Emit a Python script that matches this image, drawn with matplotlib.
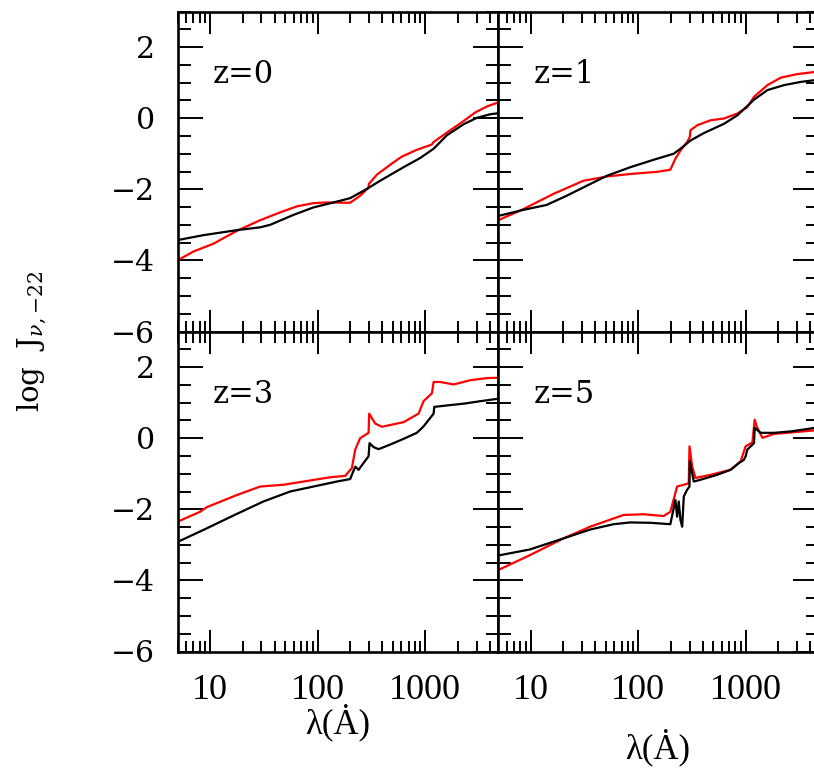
"""Mean intensity J_nu vs wavelength at z = 0, 1, 3, 5 (black vs red model)."""

from __future__ import annotations

import matplotlib

matplotlib.use("Agg")
import matplotlib.pyplot as plt
import numpy as np
from matplotlib.ticker import FixedLocator, LogLocator, NullFormatter, FixedFormatter

# values: log10(lambda / A), log J_nu,-22
Z0_BLACK_LOGLAM = [0.696, 0.938, 1.248, 1.465, 1.558, 1.775, 1.961, 2.147, 2.302, 2.457,
                   2.581, 2.798, 2.953, 3.078, 3.202, 3.357, 3.481, 3.605, 3.682]
Z0_BLACK_LOGJ = [-3.43, -3.29, -3.15, -3.07, -3.00, -2.72, -2.51, -2.37, -2.25, -1.99,
                 -1.76, -1.38, -1.12, -0.86, -0.48, -0.17, 0.01, 0.11, 0.14]
Z0_RED_LOGLAM = [0.696, 0.845, 1.031, 1.248, 1.465, 1.651, 1.806, 1.961, 2.085, 2.302,
                 2.395, 2.473, 2.476, 2.550, 2.674, 2.783, 2.922, 3.062, 3.078, 3.233,
                 3.357, 3.465, 3.574, 3.667]
Z0_RED_LOGJ = [-4.00, -3.75, -3.53, -3.17, -2.87, -2.65, -2.48, -2.39, -2.37, -2.38,
               -2.18, -1.95, -1.85, -1.59, -1.31, -1.08, -0.89, -0.74, -0.67, -0.34,
               -0.08, 0.16, 0.33, 0.43]

Z1_BLACK_LOGLAM = [0.698, 0.931, 1.149, 1.336, 1.522, 1.709, 1.926, 2.144, 2.330, 2.393,
                   2.486, 2.610, 2.797, 2.922, 3.077, 3.202, 3.357, 3.512, 3.643]
Z1_BLACK_LOGJ = [-2.75, -2.58, -2.44, -2.18, -1.90, -1.62, -1.38, -1.17, -1.00, -0.86,
                 -0.63, -0.42, -0.16, 0.08, 0.52, 0.79, 0.93, 1.02, 1.07]
Z1_RED_LOGLAM = [0.698, 0.931, 1.211, 1.491, 1.709, 1.926, 2.175, 2.299, 2.346, 2.393,
                 2.455, 2.480, 2.486, 2.549, 2.673, 2.797, 2.922, 3.015, 3.077, 3.202,
                 3.326, 3.481, 3.643]
Z1_RED_LOGJ = [-2.87, -2.56, -2.13, -1.76, -1.64, -1.57, -1.51, -1.45, -1.14, -0.91,
               -0.67, -0.53, -0.34, -0.20, -0.06, -0.01, 0.13, 0.31, 0.60, 0.93,
               1.14, 1.24, 1.30]

Z3_BLACK_LOGLAM = [0.696, 0.938, 1.248, 1.496, 1.744, 1.992, 2.178, 2.302, 2.349, 2.380,
                   2.426, 2.473, 2.482, 2.519, 2.566, 2.674, 2.798, 2.922, 2.984, 3.078,
                   3.084, 3.202, 3.357, 3.512, 3.682]
Z3_BLACK_LOGJ = [-2.92, -2.58, -2.13, -1.78, -1.50, -1.34, -1.22, -1.15, -0.80, -0.89,
                 -0.70, -0.51, -0.14, -0.25, -0.31, -0.18, -0.02, 0.15, 0.33, 0.69,
                 0.88, 0.92, 0.97, 1.04, 1.11]
Z3_RED_LOGLAM = [0.696, 0.907, 0.969, 1.248, 1.465, 1.682, 1.930, 2.116, 2.256, 2.318,
                 2.349, 2.395, 2.473, 2.479, 2.535, 2.597, 2.798, 2.938, 2.984, 3.062,
                 3.078, 3.140, 3.264, 3.419, 3.574, 3.682]
Z3_RED_LOGJ = [-2.35, -2.07, -1.94, -1.60, -1.36, -1.31, -1.19, -1.10, -1.06, -0.84,
               -0.32, 0.00, 0.15, 0.69, 0.41, 0.32, 0.45, 0.69, 1.04, 1.26,
               1.58, 1.58, 1.51, 1.63, 1.69, 1.70]

Z5_BLACK_LOGLAM = [0.698, 0.993, 1.304, 1.553, 1.771, 1.926, 2.113, 2.299, 2.346, 2.362,
                   2.377, 2.393, 2.409, 2.424, 2.455, 2.477, 2.480, 2.517, 2.579, 2.735,
                   2.859, 2.937, 2.983, 2.999, 3.015, 3.077, 3.083, 3.139, 3.263, 3.419,
                   3.643]
Z5_BLACK_LOGJ = [-3.30, -3.13, -2.82, -2.57, -2.42, -2.37, -2.38, -2.42, -1.74, -2.21,
                 -1.78, -2.30, -2.49, -1.64, -1.45, -1.36, -0.65, -1.22, -1.17, -1.03,
                 -0.89, -0.70, -0.61, -0.51, -0.32, -0.14, 0.29, 0.15, 0.15, 0.19,
                 0.29]
Z5_RED_LOGLAM = [0.698, 0.993, 1.304, 1.553, 1.864, 2.051, 2.237, 2.299, 2.362, 2.424,
                 2.470, 2.477, 2.502, 2.533, 2.673, 2.859, 2.953, 2.999, 3.062, 3.083,
                 3.102, 3.155, 3.263, 3.419, 3.643]
Z5_RED_LOGJ = [-3.71, -3.29, -2.82, -2.49, -2.16, -2.14, -2.19, -2.07, -1.36, -1.31,
               -1.27, -0.23, -0.80, -1.12, -1.03, -0.89, -0.65, -0.23, -0.12, 0.52,
               0.33, 0.01, 0.12, 0.16, 0.22]

PANEL_LABELS = ["z=0", "z=1", "z=3", "z=5"]
X_TICKS = [10, 100, 1000]
X_TICK_LABELS = ["10", "100", "1000"]
Y_TICKS = [2, 0, -2, -4, -6]
Y_TICK_LABELS = ["2", "0", "\u22122", "\u22124", "\u22126"]

XLIM = (4.97, 4750)
YLIM = (-6, 3)

SERIF = ["DejaVu Serif"]
XSERIF = ["Liberation Serif", "DejaVu Serif"]

W, H = 814, 771


def style_axes(ax, show_x: bool, show_y: bool) -> None:
    ax.set_xscale("log")
    ax.set_xlim(*XLIM)
    ax.set_ylim(*YLIM)
    for sp in ax.spines.values():
        sp.set_linewidth(1.9)

    ax.xaxis.set_major_locator(FixedLocator(X_TICKS))
    ax.xaxis.set_minor_locator(LogLocator(base=10, subs=np.arange(2, 10), numticks=20))
    ax.xaxis.set_minor_formatter(NullFormatter())
    ax.yaxis.set_major_locator(FixedLocator(Y_TICKS))
    ax.yaxis.set_minor_locator(FixedLocator(np.arange(-6, 3.01, 0.5)))

    ax.tick_params(axis="both", which="both", direction="in", top=True, right=True,
                   width=1.4)
    ax.tick_params(axis="x", which="major", length=16)
    ax.tick_params(axis="x", which="minor", length=8)
    ax.tick_params(axis="y", which="major", length=18)
    ax.tick_params(axis="y", which="minor", length=9)

    if show_x:
        ax.xaxis.set_major_formatter(FixedFormatter(X_TICK_LABELS))
        ax.tick_params(axis="x", which="major", pad=16)
        for t in ax.get_xticklabels():
            t.set_fontfamily(XSERIF)
            t.set_fontsize(26)
    else:
        ax.set_xticklabels([])
    if show_y:
        ax.yaxis.set_major_formatter(FixedFormatter(Y_TICK_LABELS))
        ax.tick_params(axis="y", which="major", pad=16)
        for t in ax.get_yticklabels():
            t.set_fontfamily(SERIF)
            t.set_fontsize(21.5)
    else:
        ax.set_yticklabels([])


def main() -> None:
    plt.rcParams["mathtext.fontset"] = "dejavuserif"
    fig = plt.figure(figsize=(W / 100, H / 100), dpi=100)
    fig.patch.set_facecolor("white")

    left0, left1 = 177.5 / W, 498 / W
    width = 320.5 / W
    bot_top, bot_bot = (H - 331.5) / H, (H - 651.5) / H
    height = 320 / H

    panels = [
        (left0, bot_top, Z0_BLACK_LOGLAM, Z0_BLACK_LOGJ, Z0_RED_LOGLAM, Z0_RED_LOGJ, False, True),
        (left1, bot_top, Z1_BLACK_LOGLAM, Z1_BLACK_LOGJ, Z1_RED_LOGLAM, Z1_RED_LOGJ, False, False),
        (left0, bot_bot, Z3_BLACK_LOGLAM, Z3_BLACK_LOGJ, Z3_RED_LOGLAM, Z3_RED_LOGJ, True, True),
        (left1, bot_bot, Z5_BLACK_LOGLAM, Z5_BLACK_LOGJ, Z5_RED_LOGLAM, Z5_RED_LOGJ, True, False),
    ]
    for label, (x0, y0, bl, bj, rl, rj, show_x, show_y) in zip(PANEL_LABELS, panels):
        ax = fig.add_axes([x0, y0, width, height])
        ax.plot(10 ** np.asarray(rl), rj, color="#ff0000", lw=1.6, zorder=2)
        ax.plot(10 ** np.asarray(bl), bj, color="black", lw=1.6, zorder=3)
        style_axes(ax, show_x, show_y)
        ax.text(0.11, 0.776, label, transform=ax.transAxes, fontsize=22,
                family=SERIF, ha="left", va="baseline")

    fig.text(32 / W, 1 - 341 / H, r"$\mathrm{log\ \ J}_{\nu,{-}22}$", rotation=90,
             fontsize=21, ha="center", va="center")
    fig.text(338 / W, 1 - 722 / H, "\u03bb(\u0226)", fontsize=25, family=XSERIF,
             ha="center", va="center")
    fig.text(658 / W, 1 - 747 / H, "\u03bb(\u0226)", fontsize=25, family=XSERIF,
             ha="center", va="center")

    fig.savefig("out.png", dpi=100, facecolor="white")
    plt.close(fig)


if __name__ == "__main__":
    main()
